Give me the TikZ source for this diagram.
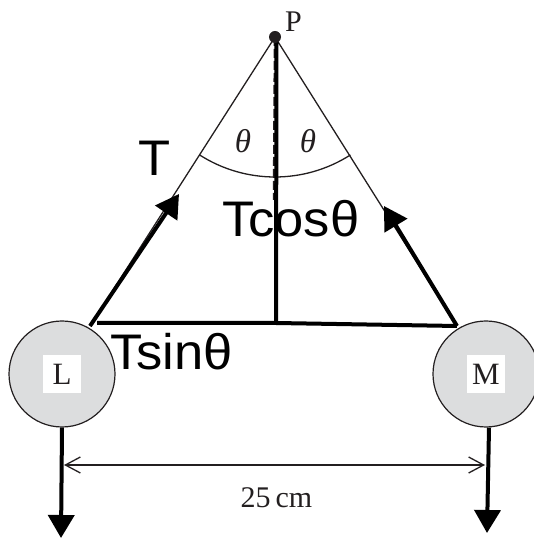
\documentclass[tikz,border=0pt]{standalone}
\usepackage{fontspec}
\setmainfont{Liberation Serif}
\setsansfont{Liberation Sans}
\usetikzlibrary{arrows.meta}
\definecolor{ink}{HTML}{231F20}
\definecolor{ballgray}{HTML}{DCDDDE}
\tikzset{
	ball/.style = {circle, draw = ink, fill = ballgray, line width = 1.2pt, minimum size = 106pt, inner sep = 0pt},
	ballname/.style = {fill = white, minimum size = 38pt, inner sep = 0pt, text = ink, font = \fontsize{31}{31}\selectfont},
	force/.style = {black, line width = 4pt, -{Triangle[length = 23pt, width = 26pt]}},
	thick line/.style = {black, line width = 4pt},
	thin line/.style = {ink, line width = 1.3pt},
	big label/.style = {inner sep = 0pt, anchor = base west, xscale = 1.05, font = \sffamily\fontsize{50}{50}\selectfont},
	small label/.style = {inner sep = 0pt, text = ink, font = \fontsize{30}{30}\selectfont}
}
\begin{document}
\begin{tikzpicture}[x = 1pt, y = 1pt]
	\useasboundingbox (0,0) rectangle (534,538);

	\coordinate (Pv) at (275,501);
	\coordinate (Foot) at (276,215);
	\coordinate (Ls) at (90,212);
	\coordinate (Ms) at (457,212);
	\coordinate (Lh) at (97,215);
	\coordinate (Lt) at (179,344);
	\coordinate (Mt) at (384,332);
	\coordinate (Dash) at (274,338);
	\coordinate (Lw) at (61,0);
	\coordinate (Mw) at (487,5);
	\coordinate (Dl) at (64,73);
	\coordinate (Dr) at (485,73);

	% strings and the arc
	\draw[thin line] (Pv) -- (Ls);
	\draw[thin line] (Pv) -- (Ms);
	\draw[thin line] (Pv) ++(237.4:140) arc[start angle = 237.4, end angle = 302.6, radius = 140];
	\draw[ink, line width = 2.5pt, dash pattern = on 9pt off 3pt] (Pv) -- (Dash);
	\draw[thick line] (Pv) ++(1.5,-5) -- (Foot);
	\draw[thick line] (Lh) -- (Foot) -- (Ms);

	% masses
	\node[ball] (L) at (62,164) {};
	\node[ball] (M) at (486,164) {};
	\node[ballname] (Lname) at (L) {L};
	\node[ballname] (Mname) at (M) {M};

	% forces
	\draw[force] (Ls) -- (Lt);
	\draw[force] (Ms) -- (Mt);
	\draw[force] (L.south) -- (Lw);
	\draw[force] (M.south) ++(3,0) -- (Mw);
	\draw[ink, line width = 1.3pt, {Straight Barb[length = 15pt, width = 16pt]}-{Straight Barb[length = 15pt, width = 16pt]}] (Dl) -- (Dr);

	\node[circle, fill = ink, minimum size = 12pt, inner sep = 0pt] (Pdot) at (Pv) {};

	% labels
	\node[small label, anchor = base] (Pname) at (293.5,506) {P};
	\node[small label, anchor = base, font = \fontsize{33}{33}\selectfont] (ThL) at (243,385) {\itshape θ};
	\node[small label, anchor = base, font = \fontsize{33}{33}\selectfont] (ThR) at (308,385) {\itshape θ};
	\node[big label] (T) at (138,362) {T};
	\node[big label] (Tc) at (222,301) {Tcosθ};
	\node[big label] (Ts) at (110,168) {Tsinθ};
	\node[small label, anchor = base] (Dim) at (276.5,30) {25\,cm};
\end{tikzpicture}
\end{document}
